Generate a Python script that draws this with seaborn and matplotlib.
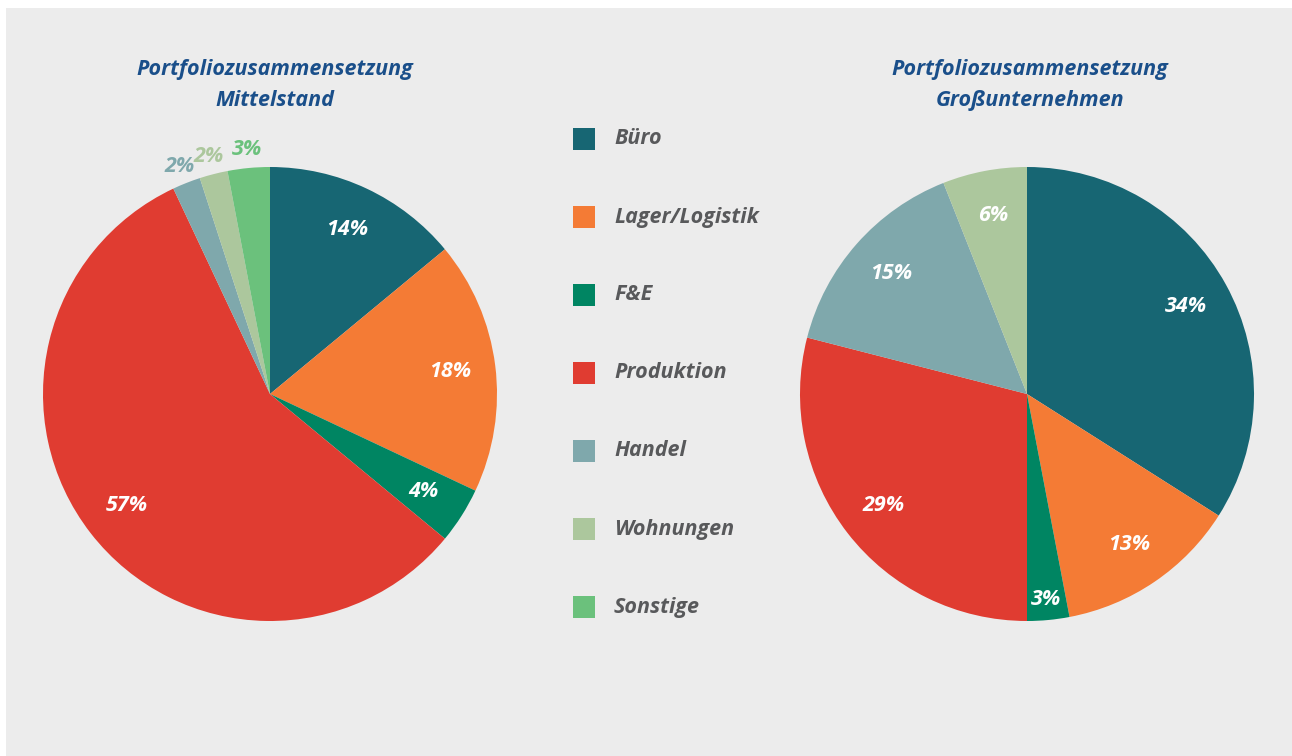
import matplotlib
matplotlib.use("Agg")
import matplotlib.pyplot as plt
import seaborn as sns
import numpy as np
from matplotlib.patches import Rectangle

categories = ["Büro", "Lager/Logistik", "F&E", "Produktion", "Handel", "Wohnungen", "Sonstige"]
mittelstand = [14, 18, 4, 57, 2, 2, 3]
gross = [34, 13, 3, 29, 15, 6, 0]
titles = ["Portfoliozusammensetzung\nMittelstand", "Portfoliozusammensetzung\nGroßunternehmen"]
colors = ["#176673", "#f47b35", "#008562", "#e03c31", "#7fa8ac", "#acc79d", "#6bc17c"]

sns.set_theme(style="white")
plt.rcParams["font.family"] = ["Open Sans", "DejaVu Sans"]

W, H = 1292, 756
fig = plt.figure(figsize=(W / 100, H / 100), dpi=100, facecolor="white")
fig.add_artist(Rectangle((6 / W, -0.01), 1.02 - 6 / W, 1.01 - 8 / H, transform=fig.transFigure,
                         facecolor="#ececec", edgecolor="none", zorder=-10))

def draw_pie(ax, values, title, title_x):
    wedges, _ = ax.pie(values, colors=colors, startangle=90, counterclock=False,
                       radius=1, wedgeprops=dict(linewidth=0))
    ax.set_xlim(-1, 1)
    ax.set_ylim(-1, 1)
    ax.set_facecolor("none")
    for i, (w, v) in enumerate(zip(wedges, values)):
        if v == 0:
            continue
        ang = np.deg2rad((w.theta1 + w.theta2) / 2)
        if v <= 3 and i != 2:
            # tiny slices get their label outside, in the slice colour
            r, col = 1.08, colors[i]
        else:
            r, col = (0.91 if v <= 3 else 0.8), "white"
        ax.text(r * np.cos(ang), r * np.sin(ang), f"{v}%", ha="center", va="center",
                color=col, fontsize=15.5, fontweight="bold", fontstyle="italic")
    fig.text(title_x / W, 1 - 85 / H, title, ha="center", va="center", color="#1a4f8a",
             fontsize=15.5, fontweight="bold", fontstyle="italic", linespacing=1.6)

ax1 = fig.add_axes([43 / W, (H - 621) / H, 454 / W, 454 / H])
ax2 = fig.add_axes([800 / W, (H - 621) / H, 454 / W, 454 / H])
draw_pie(ax1, mittelstand, titles[0], 275)
draw_pie(ax2, gross, titles[1], 1030)

# legend
for i, (cat, col) in enumerate(zip(categories, colors)):
    yc = 139 + i * 78
    fig.add_artist(Rectangle((573 / W, 1 - (yc + 11) / H), 22 / W, 22 / H,
                             transform=fig.transFigure, facecolor=col, edgecolor="none"))
    fig.text(614 / W, 1 - yc / H, cat, ha="left", va="center", color="#58595b",
             fontsize=15.5, fontweight="bold", fontstyle="italic")

fig.savefig("out.png", dpi=100, facecolor="white")
